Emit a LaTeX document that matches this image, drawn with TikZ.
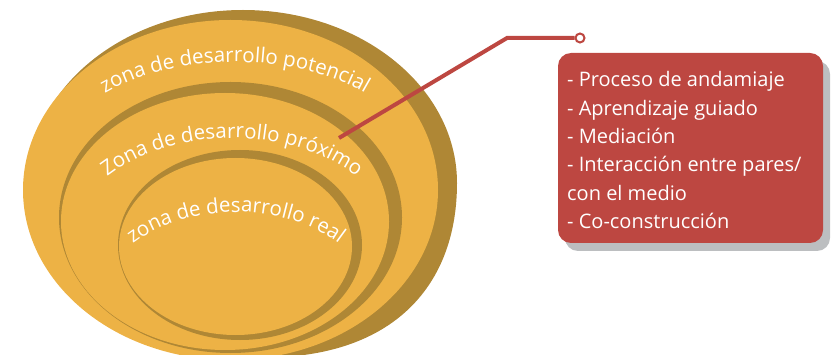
\documentclass[tikz,border=0pt]{standalone}
\usepackage{fontspec}
\setmainfont{Open Sans}
\usetikzlibrary{decorations.text,shadows}
\definecolor{zonelight}{HTML}{EDB245}
\definecolor{zonedark}{HTML}{AF8735}
\definecolor{notered}{HTML}{BD4741}
\definecolor{shadowgray}{HTML}{BCBEC0}
\newcommand\zonefont{\fontsize{20.5}{24}\selectfont}
\newcommand\panelfont{\fontsize{20}{28.3}\selectfont}

\begin{document}
\begin{tikzpicture}[x=1pt,y=-1pt,
  lighttone/.style={fill=zonelight},
  darktone/.style={fill=zonedark},
  leader/.style={draw=notered,line width=4pt},
  panelbox/.style={rectangle,rounded corners=13pt,fill=notered,
    minimum width=265pt,minimum height=190pt,inner sep=0pt,
    drop shadow={shadow xshift=7pt,shadow yshift=-8pt,fill=shadowgray,opacity=1}},
  paneltext/.style={text=white,font=\panelfont,align=left,inner sep=0pt},
  enddot/.style={circle,draw=notered,line width=2pt,fill=white,
    minimum size=9pt,inner sep=0pt}
]
\useasboundingbox (0,0) rectangle (832,355);
\clip (0,0) rectangle (832,355);

% outer zone: dark backing (upper half elliptic, swelling to the lower right),
% light face on top of it
\path[darktone] (29,183) arc [start angle=-180,end angle=0,x radius=214,y radius=173]
  .. controls (457,280) and (400,350) .. (283,357)
  -- (230,340) -- (60,250) -- cycle;
\path[lighttone] (230.5,190) ellipse [x radius=207.5, y radius=170];
% middle and inner zones
\path[darktone]  (230.5,217.5) ellipse [x radius=171.5, y radius=135.5];
\path[lighttone] (225,221.5) ellipse [x radius=164,   y radius=128.5];
\path[darktone]  (240,245)   ellipse [x radius=122,   y radius=95];
\path[lighttone] (235.5,246.5) ellipse [x radius=116.5, y radius=88.5];

% curved zone labels
\path[decorate,decoration={text along path,text align=center,text color=white,
  text={|\zonefont|zona de desarrollo potencial}}]
  (235,164) ++(-141:180 and 102) arc [start angle=-141,end angle=-39,x radius=180,y radius=102];
\path[decorate,decoration={text along path,text align=center,text color=white,
  text={|\zonefont|Zona de desarrollo próximo}}]
  (232,259) ++(-140:170 and 121) arc [start angle=-140,end angle=-40,x radius=170,y radius=121];
\path[decorate,decoration={text along path,text align=center,text color=white,
  text={|\zonefont|zona de desarrollo real}}]
  (236,310) ++(-139:140 and 98) arc [start angle=-139,end angle=-41,x radius=140,y radius=98];

% note panel
\node[panelbox] (panel) at (690.5,148) {};
\node[paneltext,anchor=base west] (notes) at (567,228.5)
  {- Proceso de andamiaje\\- Aprendizaje guiado\\- Mediación\\- Interacción entre pares/\\con el medio\\- Co-construcción};

% leader from the proximal zone to the panel
\coordinate (tip) at (339,138);
\coordinate (bend) at (507,38);
\node[enddot] (dot) at (580,38) {};
\draw[leader] (tip) -- (bend) -- (dot.west);
\end{tikzpicture}
\end{document}
